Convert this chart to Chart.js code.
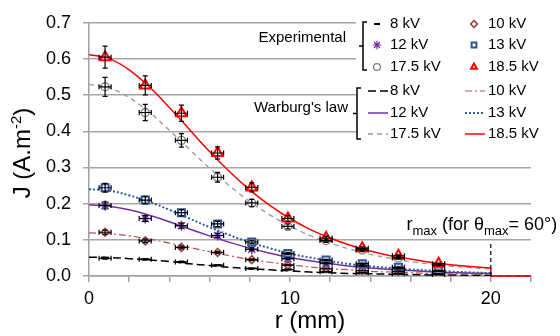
<!DOCTYPE html>
<html>
<head>
<meta charset="utf-8">
<script src="https://cdn.jsdelivr.net/npm/chart.js@4.4.1/dist/chart.umd.min.js"></script>
<style>
  html, body { margin: 0; padding: 0; background: #fff; }
  #wrap { width: 560px; height: 336px; }
</style>
</head>
<body>
<div id="wrap"><canvas id="chart" width="560" height="336"></canvas></div>
<script>
// measured points (r in mm, J in A.m-2)
const rExp = [0.8, 2.8, 4.6, 6.4, 8.1, 9.9, 11.8, 13.6, 15.4, 17.4];
const exp8kV   = [0.049, 0.046, 0.039, 0.030, 0.021, 0.018, 0.012, 0.009, 0.006, 0.004];
const exp10kV  = [0.121, 0.097, 0.079, 0.065, 0.045, 0.030, 0.020, 0.015, 0.012, 0.006];
const exp12kV  = [0.195, 0.159, 0.139, 0.112, 0.074, 0.048, 0.035, 0.028, 0.020, 0.013];
const exp13kV  = [0.244, 0.210, 0.175, 0.144, 0.094, 0.062, 0.044, 0.034, 0.024, 0.015];
const exp17_5kV = [0.523, 0.452, 0.375, 0.273, 0.202, 0.137, 0.098, 0.072, 0.050, 0.030];
const exp18_5kV = [0.605, 0.527, 0.450, 0.340, 0.245, 0.159, 0.105, 0.077, 0.056, 0.034];

// error bars: about 5 % on J, 0.3 mm on r
const errRel = 0.05;
const errR = 0.3;

// Warburg's law curves, read at every mm, then the drop at r_max
const rFit = [0, 1, 2, 3, 4, 5, 6, 7, 8, 9, 10, 11, 12, 13, 14, 15, 16, 17, 18, 19, 20, 20, 22];
const fit8kV   = [0.052, 0.051, 0.048, 0.044, 0.040, 0.034, 0.029, 0.024, 0.020, 0.017, 0.014, 0.011, 0.009, 0.007, 0.006, 0.005, 0.004, 0.003, 0.003, 0.002, 0.002, 0, 0];
const fit10kV  = [0.119, 0.117, 0.111, 0.102, 0.091, 0.079, 0.067, 0.056, 0.046, 0.038, 0.031, 0.025, 0.020, 0.017, 0.013, 0.011, 0.009, 0.007, 0.006, 0.005, 0.004, 0, 0];
const fit12kV  = [0.197, 0.193, 0.183, 0.168, 0.150, 0.130, 0.111, 0.093, 0.077, 0.063, 0.051, 0.042, 0.034, 0.027, 0.022, 0.018, 0.015, 0.012, 0.010, 0.008, 0.007, 0, 0];
const fit13kV  = [0.240, 0.236, 0.223, 0.205, 0.183, 0.159, 0.135, 0.113, 0.093, 0.077, 0.062, 0.051, 0.041, 0.033, 0.027, 0.022, 0.018, 0.015, 0.012, 0.010, 0.008, 0, 0];
const fit17_5kV = [0.530, 0.520, 0.493, 0.453, 0.403, 0.350, 0.298, 0.249, 0.206, 0.169, 0.138, 0.112, 0.091, 0.074, 0.060, 0.049, 0.040, 0.033, 0.027, 0.023, 0.019, 0, 0];
const fit18_5kV = [0.612, 0.601, 0.570, 0.523, 0.466, 0.405, 0.344, 0.288, 0.238, 0.195, 0.159, 0.129, 0.105, 0.085, 0.069, 0.056, 0.047, 0.038, 0.031, 0.026, 0.022, 0, 0];

const seriesLabels = ['8 kV', '10 kV', '12 kV', '13 kV', '17.5 kV', '18.5 kV'];
const rMax = 20;
const rMaxMarkTop = 0.095;

const FONT = '"Liberation Sans", Arial, sans-serif';
Chart.defaults.font.family = FONT;

// look of each voltage (markers + curve)
const styles = [
  { mark: '#000000', line: '#000000', point: 'line',     r: 4, pbw: 2,   dash: [8, 4],       lw: 1.5 },
  { mark: '#9e3a36', line: '#b5524e', point: 'rectRot',  r: 4, pbw: 1.5, dash: [7, 3, 2, 3], lw: 1.2 },
  { mark: '#7030a0', line: '#7030a0', point: 'star',     r: 5, pbw: 1.5, dash: [],           lw: 1.5 },
  { mark: '#2f5597', line: '#2e5fa3', point: 'rect',     r: 5, pbw: 2,   dash: [2, 2],       lw: 2 },
  { mark: '#7f7f7f', line: '#999999', point: 'circle',   r: 4, pbw: 1.3, dash: [5, 4],       lw: 1.3 },
  { mark: '#ff0000', line: '#ff0000', point: 'triangle', r: 6, pbw: 2,   dash: [],           lw: 1.5 }
];

const expData = [exp8kV, exp10kV, exp12kV, exp13kV, exp17_5kV, exp18_5kV];
const fitData = [fit8kV, fit10kV, fit12kV, fit13kV, fit17_5kV, fit18_5kV];

const pts = (xs, ys) => xs.map((x, i) => ({ x: x, y: ys[i] }));
const nSmooth = 21; // samples 0..20 mm are smoothed, the drop is straight

// index 0 is drawn last, so list from top to bottom
const datasets = [];
for (let i = 5; i >= 0; i--) {
  const s = styles[i];
  datasets.push({
    label: seriesLabels[i] + ' exp',
    data: pts(rExp, expData[i]),
    showLine: false,
    pointStyle: s.point,
    pointRadius: s.r,
    pointBorderWidth: s.pbw,
    pointBorderColor: s.mark,
    pointBackgroundColor: 'rgba(255,255,255,0.6)',
    errBars: true
  });
}
for (let i = 5; i >= 0; i--) {
  const s = styles[i];
  const all = pts(rFit, fitData[i]);
  datasets.push({
    label: seriesLabels[i] + ' Warburg',
    data: all.slice(0, nSmooth),
    showLine: true,
    pointRadius: 0,
    borderColor: s.line,
    borderDash: s.dash,
    borderWidth: s.lw,
    tension: 0.4,
    fill: false
  });
  datasets.push({
    label: seriesLabels[i] + ' Warburg drop',
    data: all.slice(nSmooth - 1),
    showLine: true,
    pointRadius: 0,
    borderColor: s.line,
    borderDash: s.dash,
    borderWidth: s.lw,
    tension: 0,
    fill: false,
    clip: 4
  });
}

// error bars on the measured points
const errorBars = {
  id: 'errorBars',
  afterDatasetsDraw(chart) {
    const ctx = chart.ctx, xs = chart.scales.x, ys = chart.scales.y;
    ctx.save();
    ctx.strokeStyle = '#000';
    ctx.lineWidth = 1.2;
    const cap = 2.5;
    chart.data.datasets.forEach(ds => {
      if (!ds.errBars) return;
      ds.data.forEach(p => {
        const px = xs.getPixelForValue(p.x), py = ys.getPixelForValue(p.y);
        const y1 = ys.getPixelForValue(p.y * (1 + errRel)), y2 = ys.getPixelForValue(p.y * (1 - errRel));
        const x1 = xs.getPixelForValue(p.x - errR), x2 = xs.getPixelForValue(p.x + errR);
        ctx.beginPath();
        ctx.moveTo(px, y1); ctx.lineTo(px, y2);
        ctx.moveTo(px - cap, y1); ctx.lineTo(px + cap, y1);
        ctx.moveTo(px - cap, y2); ctx.lineTo(px + cap, y2);
        ctx.moveTo(x1, py); ctx.lineTo(x2, py);
        ctx.moveTo(x1, py - cap); ctx.lineTo(x1, py + cap);
        ctx.moveTo(x2, py - cap); ctx.lineTo(x2, py + cap);
        ctx.stroke();
      });
    });
    ctx.restore();
  }
};

// text with sub / superscripts, drawn left to right from x
function richText(ctx, x, y, parts, size, small) {
  parts.forEach(p => {
    ctx.font = (p.s ? small : size) + 'px ' + FONT;
    const dy = p.s === 'sub' ? size * 0.3 : p.s === 'sup' ? -size * 0.38 : 0;
    ctx.fillText(p.t, x, y + dy);
    x += ctx.measureText(p.t).width;
  });
  return x;
}
function richWidth(ctx, parts, size, small) {
  let w = 0;
  parts.forEach(p => {
    ctx.font = (p.s ? small : size) + 'px ' + FONT;
    w += ctx.measureText(p.t).width;
  });
  return w;
}

function brace(ctx, x, top, bottom) {
  const mid = (top + bottom) / 2;
  ctx.beginPath();
  ctx.moveTo(x + 4, top); ctx.lineTo(x, top); ctx.lineTo(x, bottom); ctx.lineTo(x + 4, bottom);
  ctx.moveTo(x, mid); ctx.lineTo(x - 4, mid);
  ctx.stroke();
}

const overlay = {
  id: 'overlay',
  afterDraw(chart) {
    const ctx = chart.ctx, xs = chart.scales.x, ys = chart.scales.y;
    ctx.save();

    // r_max marker
    const xm = xs.getPixelForValue(rMax);
    ctx.strokeStyle = '#000';
    ctx.lineWidth = 1.2;
    ctx.setLineDash([4, 3]);
    ctx.beginPath();
    ctx.moveTo(xm, ys.getPixelForValue(0));
    ctx.lineTo(xm, ys.getPixelForValue(rMaxMarkTop));
    ctx.stroke();
    ctx.setLineDash([]);

    ctx.fillStyle = '#000';
    ctx.textBaseline = 'alphabetic';
    ctx.textAlign = 'left';
    richText(ctx, xs.getPixelForValue(15.8), ys.getPixelForValue(0.128), [
      { t: 'r' }, { t: 'max', s: 'sub' }, { t: ' (for \u03b8' }, { t: 'max', s: 'sub' }, { t: '= 60\u00b0)' }
    ], 18, 13);

    // y title with superscript
    ctx.save();
    ctx.translate(22, 153);
    ctx.rotate(-Math.PI / 2);
    const yt = [{ t: 'J (A.m' }, { t: '-2', s: 'sup' }, { t: ')' }];
    richText(ctx, -richWidth(ctx, yt, 24, 15) / 2, 8, yt, 24, 15);
    ctx.restore();

    // legend
    ctx.fillStyle = '#fff';
    ctx.fillRect(356, 0, 204, 150);
    ctx.fillStyle = '#000';
    ctx.strokeStyle = '#000';
    ctx.lineWidth = 1.5;
    ctx.font = '15px ' + FONT;
    ctx.textBaseline = 'middle';
    ctx.textAlign = 'right';
    ctx.fillText('Experimental', 346, 38);
    ctx.fillText("Warburg's law", 348, 108);
    brace(ctx, 363, 22, 70);
    brace(ctx, 357, 88, 139);

    ctx.textAlign = 'left';
    const colMark = [377, 474], colText = [390, 488];
    const rowsExp = [24, 45, 67], rowsFit = [91, 113, 134];
    const lineX = [[368, 388], [465, 485]];
    seriesLabels.forEach((lab, i) => {
      const c = i % 2, r = Math.floor(i / 2), s = styles[i];
      const mx = colMark[c], my = rowsExp[r];
      // marker
      ctx.strokeStyle = s.mark;
      ctx.fillStyle = '#fff';
      if (s.point === 'line') {
        ctx.lineWidth = 2;
        ctx.beginPath();
        ctx.moveTo(mx - 3, my); ctx.lineTo(mx + 3, my);
        ctx.stroke();
      } else {
        ctx.lineWidth = s.point === 'star' ? 1.2 : s.pbw;
        Chart.helpers.drawPoint(ctx, {
          pointStyle: s.point,
          radius: s.point === 'star' ? 4.2 : 3.4,
          rotation: 0,
          borderWidth: ctx.lineWidth
        }, mx, my);
      }
      ctx.fillStyle = '#000';
      ctx.fillText(lab, colText[c], my);
      // curve sample
      ctx.strokeStyle = s.line;
      ctx.lineWidth = s.lw;
      ctx.setLineDash(s.dash);
      ctx.beginPath();
      ctx.moveTo(lineX[c][0], rowsFit[r]);
      ctx.lineTo(lineX[c][1], rowsFit[r]);
      ctx.stroke();
      ctx.setLineDash([]);
      ctx.fillText(lab, colText[c], rowsFit[r]);
    });

    ctx.restore();
  }
};

new Chart(document.getElementById('chart').getContext('2d'), {
  type: 'scatter',
  data: { datasets: datasets },
  options: {
    responsive: false,
    animation: false,
    devicePixelRatio: 1,
    layout: { padding: { top: 15, right: 29, left: 0, bottom: 0 } },
    plugins: {
      legend: { display: false },
      tooltip: { enabled: false }
    },
    scales: {
      x: {
        type: 'linear',
        min: 0,
        max: 22,
        afterFit: s => { s.height = 60; },
        border: { color: '#a0a0a0', width: 1.5 },
        grid: { drawOnChartArea: false, color: '#a0a0a0', lineWidth: 1.5, tickLength: 6 },
        ticks: {
          stepSize: 2,
          autoSkip: false,
          maxRotation: 0,
          padding: 6,
          color: '#000',
          font: { size: 18 },
          callback: v => (v % 10 === 0 ? String(v) : '')
        },
        title: { display: true, text: 'r (mm)', color: '#000', font: { size: 24 }, padding: { top: 0, bottom: 0 } }
      },
      y: {
        min: 0,
        max: 0.7,
        afterFit: s => { s.width = 89; },
        border: { color: '#a0a0a0', width: 1.5 },
        grid: { color: '#a6a6a6', lineWidth: 1.5, tickLength: 6 },
        ticks: {
          stepSize: 0.1,
          padding: 12,
          color: '#000',
          font: { size: 18 },
          callback: v => v.toFixed(1)
        }
      }
    }
  },
  plugins: [errorBars, overlay]
});
</script>
</body>
</html>
